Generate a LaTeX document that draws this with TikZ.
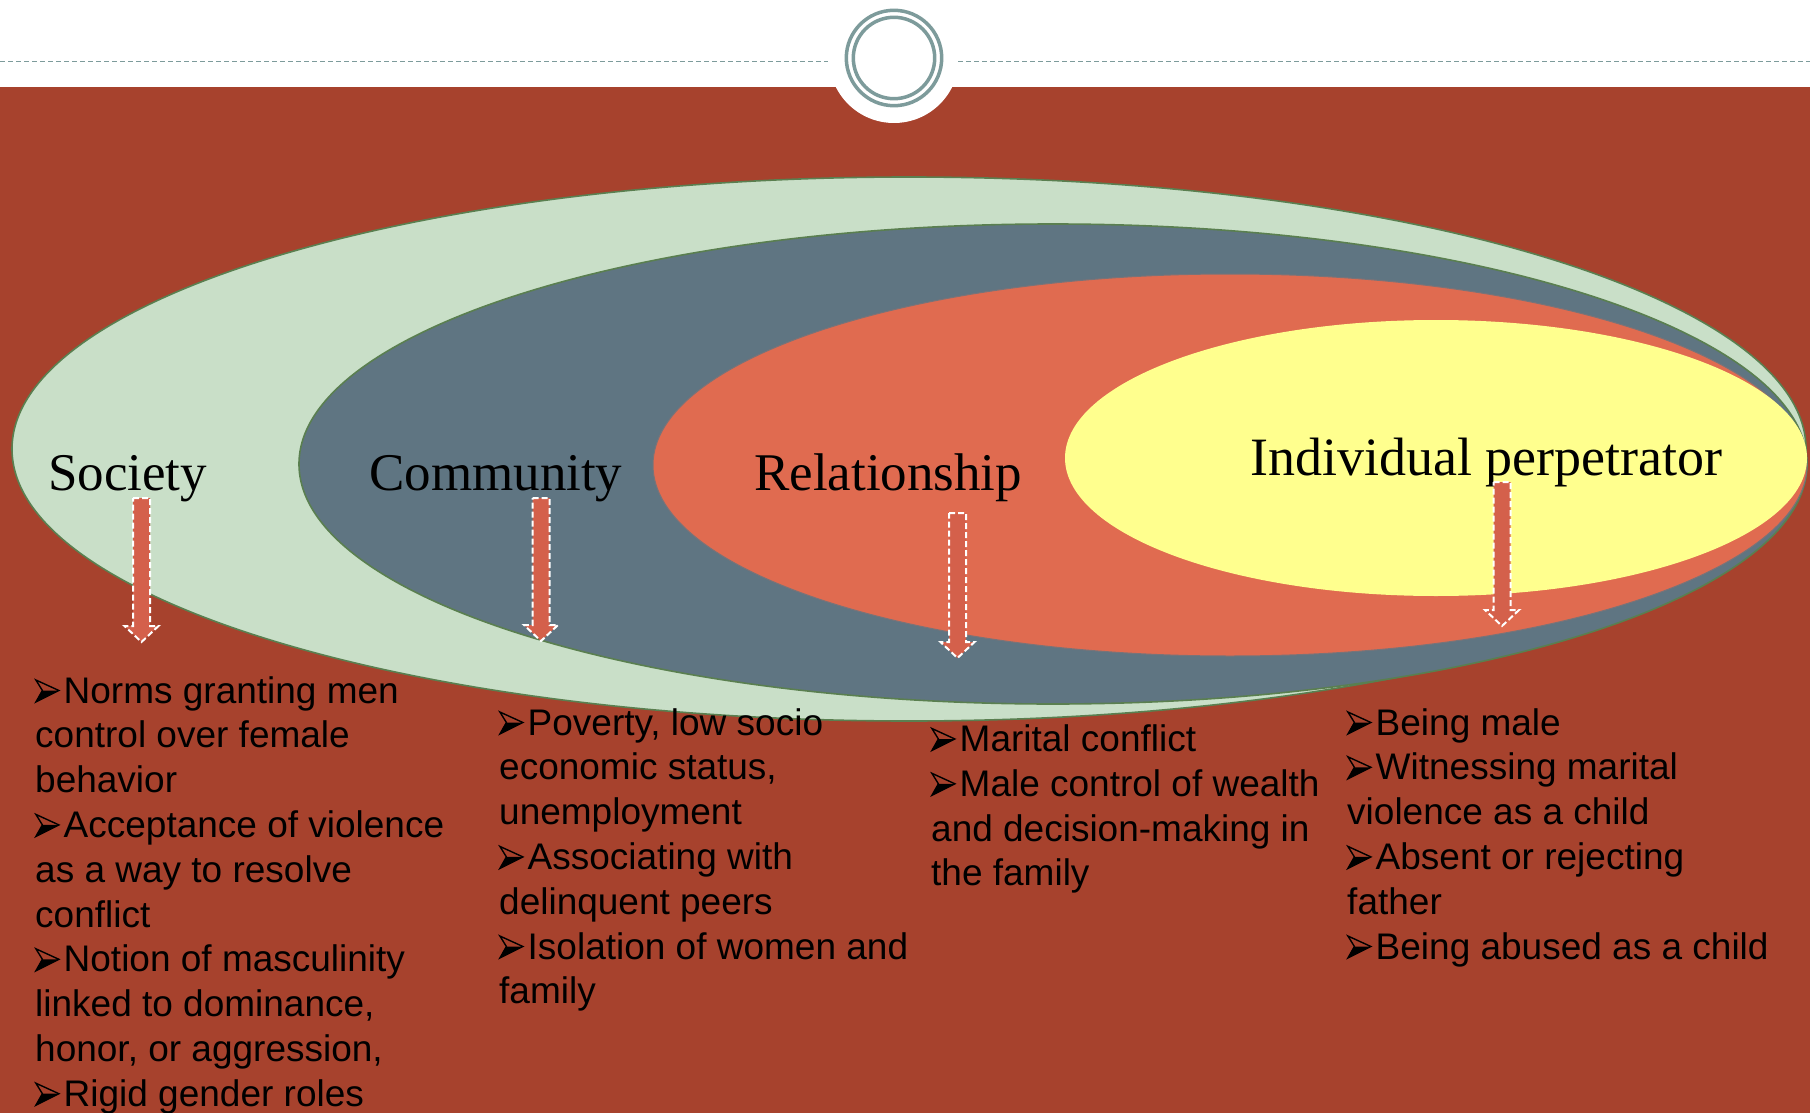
\documentclass[tikz,border=0pt]{standalone}
\usepackage{fontspec}
\setmainfont{Liberation Sans}
\newfontfamily\labelserif{Liberation Serif}
\definecolor{bgred}{HTML}{A7422D}
\definecolor{sgreen}{HTML}{C9DFC8}
\definecolor{slate}{HTML}{5F7582}
\definecolor{lorange}{HTML}{E06B50}
\definecolor{lyellow}{HTML}{FFFF8E}
\definecolor{edgegreen}{HTML}{5A7F50}
\definecolor{ringgray}{HTML}{7D9B9B}
\definecolor{arrowfill}{HTML}{D4604B}
\newcommand\bul{\makebox[28.5pt][l]{\tikz[baseline=0pt,x=1pt,y=1pt]{%
  \draw[black,line width=1.4pt,line join=miter] (0.5,23) -- (23.5,12.5) -- (0.5,1) -- (7,12.5) -- cycle;
  \fill[black] (23.5,12.5) -- (0.5,1) -- (7,12.5) -- cycle;}}}
\newcommand\blockarrow[4]{%
  \draw[barrow] (#1-8.5,#2) -- (#1+8.5,#2) -- (#1+8.5,#3) -- (#1+17,#3)
    -- (#1,#4) -- (#1-17,#3) -- (#1-8.5,#3) -- cycle;}
\begin{document}
\begin{tikzpicture}[x=1pt,y=-1pt,
  lvl/.style={draw=edgegreen,line width=1.6pt},
  lbl/.style={anchor=base west,inner sep=0pt,font=\labelserif\fontsize{53}{60}\selectfont},
  blk/.style={anchor=base west,inner sep=0pt,align=left,font=\fontsize{37}{44.8}\selectfont},
  barrow/.style={fill=arrowfill,draw=white,line width=2pt,dash pattern=on 6pt off 3pt},
  ring/.style={draw=ringgray,line width=3.5pt},
  hdash/.style={draw=ringgray,line width=1.3pt,dash pattern=on 5.3pt off 2.7pt}]
\useasboundingbox (0,0) rectangle (1810,1113);
\fill[bgred] (0,0) rectangle (1810,1113);
% header
\fill[white] (0,0) rectangle (1810,86.7);
\fill[white] (894,58) circle (65);
\draw[ring] (894,58) circle (47.7);
\draw[ring] (894,58) circle (40.7);
\draw[hdash] (0,61.7) -- (828,61.7);
\draw[hdash] (958,61.7) -- (1810,61.7);
% nested ellipses
\filldraw[lvl,fill=sgreen] (909,449) ellipse [x radius=897, y radius=272];
\filldraw[lvl,fill=slate] (1053,464) ellipse [x radius=754, y radius=240];
\filldraw[draw=slate!80!lorange,line width=1pt,fill=lorange] (1230,465) ellipse [x radius=577, y radius=191];
\fill[lyellow] (1436,458) ellipse [x radius=371, y radius=138];
% labels
\node[lbl] (soc) at (48,490) {Society};
\node[lbl] (com) at (369,490) {Community};
\node[lbl] (rel) at (754,490) {Relationship};
\node[lbl,font=\labelserif\fontsize{54}{60}\selectfont] (ind) at (1250,475) {Individual perpetrator};
% arrows
\blockarrow{141.5}{498}{626}{642}
\blockarrow{541}{498}{625}{641}
\blockarrow{957.5}{513}{642}{658}
\blockarrow{1502}{482}{610}{626}
% text blocks (anchored at the baseline of their last line)
\node[blk] (socT) at (35,1106.2) {\bul Norms granting men\\control over female\\behavior\\\bul Acceptance of violence\\as a way to resolve\\conflict\\\bul Notion of masculinity\\linked to dominance,\\honor, or aggression,\\\bul Rigid gender roles};
\node[blk] (comT) at (499,1003.8) {\bul Poverty, low socio\\economic status,\\unemployment\\\bul Associating with\\delinquent peers\\\bul Isolation of women and\\family};
\node[blk] (relT) at (931,885.9) {\bul Marital conflict\\\bul Male control of wealth\\and decision-making in\\the family};
\node[blk] (indT) at (1347,959) {\bul Being male\\\bul Witnessing marital\\violence as a child\\\bul Absent or rejecting\\father\\\bul Being abused as a child};
\end{tikzpicture}
\end{document}
